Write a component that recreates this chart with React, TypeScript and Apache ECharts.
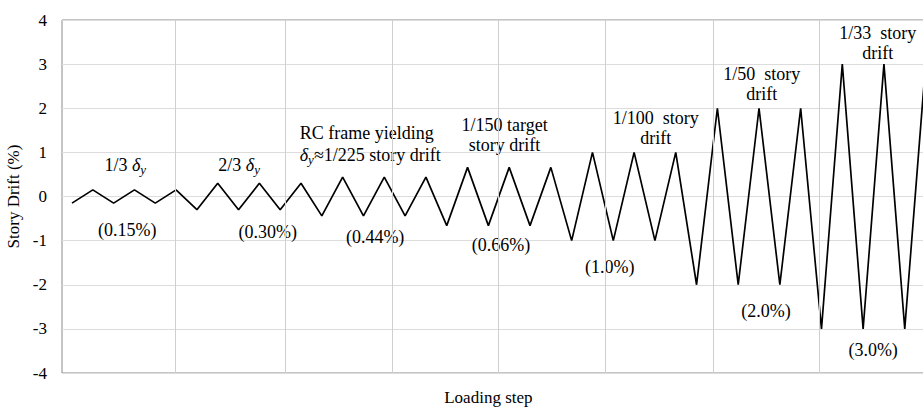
import React, { useEffect, useRef } from "react";
import * as echarts from "echarts";

// Story drift (%) at each loading step (valley, peak, ...), 3 cycles per level
const driftValues = [
  -0.15, 0.15, -0.15, 0.15, -0.15, 0.15,
  -0.3, 0.3, -0.3, 0.3, -0.3, 0.3,
  -0.44, 0.44, -0.44, 0.44, -0.44, 0.44,
  -0.66, 0.66, -0.66, 0.66, -0.66, 0.66,
  -1, 1, -1, 1, -1, 1,
  -2, 2, -2, 2, -2, 2,
  -3, 3, -3, 3, -3, 3,
];

// vertical grid lines (in loading-step units)
const gridLineSteps = [4.97, 10.22, 15.36, 20.49, 25.63, 30.79, 35.91];

// annotation texts and anchors (step, drift %)
const levelLabels = [
  "1/3 {d|δ}{s|y}",
  "2/3 {d|δ}{s|y}",
  "RC frame yielding\n{d|δ}{s|y}≈1/225 story drift",
  "1/150 target\nstory drift",
  "1/100  story\ndrift",
  "1/50  story\ndrift",
  "1/33  story\ndrift",
];
const levelLabelSteps = [2.56, 8.03, 10.94, 20.78, 28.04, 33.13, 38.7];
const levelLabelValues = [0.72, 0.72, 1.19, 1.39, 1.55, 2.55, 3.48];
const levelLabelAlign = ["center", "center", "left", "center", "center", "center", "center"];

const percentLabels = ["(0.15%)", "(0.30%)", "(0.44%)", "(0.66%)", "(1.0%)", "(2.0%)", "(3.0%)"];
const percentLabelSteps = [2.65, 9.4, 14.56, 20.61, 25.83, 33.34, 38.48];
const percentLabelValues = [-0.75, -0.8, -0.91, -1.09, -1.59, -2.59, -3.49];

const FONT = "'Liberation Serif', 'Times New Roman', serif";
const FS = 18;

export default function App() {
  const ref = useRef<HTMLDivElement>(null);

  useEffect(() => {
    if (!ref.current) return;
    const chart = echarts.init(ref.current, null, { renderer: "svg" });
    const lineData = driftValues.map((v, i) => [i, v]);

    chart.setOption({
      animation: false,
      backgroundColor: "#ffffff",
      grid: {
        left: 62,
        top: 20,
        width: 884.4,
        height: 353,
        outerBoundsMode: "none",
        show: true,
        borderColor: "#8a8a8a",
        borderWidth: 1,
        backgroundColor: "transparent",
      },
      xAxis: {
        type: "value",
        min: -0.48,
        max: 42,
        axisLine: { show: false },
        axisTick: { show: false },
        axisLabel: { show: false },
        splitLine: { show: false },
      },
      yAxis: {
        type: "value",
        min: -4,
        max: 4,
        interval: 1,
        name: "Story Drift (%)",
        nameLocation: "middle",
        nameGap: 40,
        nameTextStyle: { fontFamily: FONT, fontSize: 17, color: "#000" },
        axisLine: { show: false },
        axisTick: { show: false },
        axisLabel: { fontFamily: FONT, fontSize: 17, color: "#000", margin: 15 },
        splitLine: { show: true, lineStyle: { color: "#dcdcdc", width: 1 } },
      },
      series: [
        {
          type: "line",
          z: 1,
          data: lineData,
          showSymbol: false,
          symbol: "none",
          silent: true,
          lineStyle: { opacity: 0 },
          markLine: {
            silent: true,
            symbol: "none",
            label: { show: false },
            lineStyle: { color: "#cfcfcf", width: 1, type: "solid" },
            data: gridLineSteps.map((s) => ({ xAxis: s })),
          },
        },
        {
          type: "line",
          z: 3,
          data: lineData,
          showSymbol: false,
          symbol: "none",
          lineStyle: { color: "#000", width: 1.7 },
        },
      ],
    });

    const toPx = (x: number, y: number) =>
      chart.convertToPixel({ gridIndex: 0 }, [x, y]) as number[];

    const rich = {
      d: { fontFamily: FONT, fontSize: FS, fontStyle: "italic", lineHeight: 22, verticalAlign: "middle" },
      s: { fontFamily: FONT, fontSize: 13, fontStyle: "italic", lineHeight: 12, verticalAlign: "bottom" },
    };

    const graphics: any[] = [];
    levelLabels.forEach((t, i) => {
      const p = toPx(levelLabelSteps[i], levelLabelValues[i]);
      graphics.push({
        type: "text",
        x: p[0],
        y: p[1],
        silent: true,
        style: {
          text: t,
          fontFamily: FONT,
          fontSize: FS,
          lineHeight: i === 2 ? 22 : 20,
          fill: "#000",
          align: levelLabelAlign[i],
          verticalAlign: "middle",
          rich,
        },
      });
    });
    percentLabels.forEach((t, i) => {
      const p = toPx(percentLabelSteps[i], percentLabelValues[i]);
      graphics.push({
        type: "text",
        x: p[0],
        y: p[1],
        silent: true,
        style: {
          text: t,
          fontFamily: FONT,
          fontSize: FS,
          fill: "#000",
          align: "center",
          verticalAlign: "middle",
        },
      });
    });
    const xt = toPx(20, -4);
    graphics.push({
      type: "text",
      x: xt[0],
      y: xt[1] + 24,
      silent: true,
      style: {
        text: "Loading step",
        fontFamily: FONT,
        fontSize: 17,
        fill: "#000",
        align: "center",
        verticalAlign: "middle",
      },
    });

    chart.setOption({ graphic: graphics });

    return () => chart.dispose();
  }, []);

  return (
    <div
      style={{
        position: "absolute",
        left: 0,
        top: 0,
        width: 923,
        height: 407,
        overflow: "hidden",
        background: "#fff",
      }}
    >
      <div ref={ref} style={{ width: 960, height: 407 }} />
    </div>
  );
}
